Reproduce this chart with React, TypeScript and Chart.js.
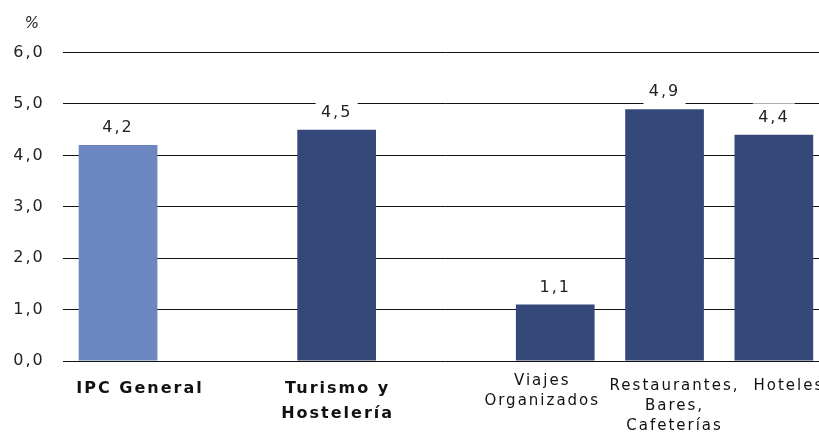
import React, { useEffect, useRef } from "react";
import { Chart, registerables } from "chart.js";

Chart.register(...registerables);

const categories: (string | string[])[] = [
  ["IPC General"],
  "",
  ["Turismo y", "Hostelería"],
  "",
  ["Viajes", "Organizados"],
  ["Restaurantes,", "Bares,", "Cafeterías"],
  ["Hoteles"],
];
const values: (number | null)[] = [4.2, null, 4.5, null, 1.1, 4.9, 4.4];
const barColors: string[] = ["#6B86C1", "#34497A", "#34497A", "#34497A", "#34497A", "#34497A", "#34497A"];
const boldIndexes: number[] = [0, 2];
const yMin = 0;
const yMax = 6;
const yStep = 1;
const unitLabel = "%";

// layout-only nudges of the category labels (pixels), as placed in the original
const labelShiftX: number[] = [22, 0, 1, 0, -13, 10, 15];
const labelShiftY: number[] = [0, 0, 0, 0, -5, 0, 0];

const FONT = "'DejaVu Sans', Verdana, sans-serif";
const SPACING = "2px";

const fmt = (v: number) => v.toFixed(1).replace(".", ",");

const setSpacing = (chart: any) => {
  try {
    (chart.ctx as any).letterSpacing = SPACING;
  } catch (e) {}
};

const labelPlugin = {
  id: "valueLabels",
  beforeUpdate(chart: any) {
    setSpacing(chart);
  },
  beforeDraw(chart: any) {
    setSpacing(chart);
    const xs = chart.scales.x;
    if (xs && xs.getLabelItems) {
      const items = xs.getLabelItems(chart.chartArea);
      items.forEach((it: any, i: number) => {
        if (it && it.options && it.options.translation && !it.__shifted) {
          it.options.translation[0] += labelShiftX[i] || 0;
          it.options.translation[1] += labelShiftY[i] || 0;
          it.__shifted = true;
        }
      });
    }
  },
  afterDatasetsDraw(chart: any) {
    const ctx = chart.ctx;
    const meta = chart.getDatasetMeta(0);
    ctx.save();
    ctx.font = `16px ${FONT}`;
    ctx.textAlign = "center";
    ctx.textBaseline = "middle";
    meta.data.forEach((el: any, i: number) => {
      const v = values[i];
      if (v === null || v === undefined) return;
      const x = el.x;
      const y = el.y - 17;
      ctx.fillStyle = "#FFFFFF";
      ctx.fillRect(x - 21, y - 14.5, 42, 29);
      ctx.fillStyle = "#222222";
      ctx.fillText(fmt(v), x, y);
    });
    ctx.restore();
  },
  afterDraw(chart: any) {
    const ctx = chart.ctx;
    ctx.save();
    ctx.font = `italic 15px ${FONT}`;
    ctx.fillStyle = "#222222";
    ctx.textAlign = "center";
    ctx.textBaseline = "middle";
    ctx.fillText(unitLabel, 33, 24.5);
    ctx.restore();
  },
};

export default function App() {
  const ref = useRef<HTMLCanvasElement | null>(null);
  useEffect(() => {
    if (!ref.current) return;
    const chart = new Chart(ref.current, {
      type: "bar",
      data: {
        labels: categories,
        datasets: [
          {
            data: values,
            backgroundColor: barColors,
            borderWidth: 0,
            categoryPercentage: 1,
            barPercentage: 0.72,
          },
        ],
      },
      options: {
        responsive: false,
        animation: false,
        layout: { padding: { top: 52.6, right: 1.5, left: 0, bottom: 0 } },
        plugins: { legend: { display: false }, tooltip: { enabled: false } },
        scales: {
          x: {
            grid: { display: false, drawTicks: false },
            border: { display: false },
            ticks: {
              autoSkip: false,
              maxRotation: 0,
              minRotation: 0,
              padding: 15,
              color: "#111111",
              font: (c: any) =>
                boldIndexes.includes(c.index)
                  ? { family: FONT, size: 16, weight: "bold", lineHeight: "25px" }
                  : { family: FONT, size: 15, weight: "normal", lineHeight: "20px" },
            },
            afterFit: (s: any) => {
              s.height = 71;
            },
          },
          y: {
            min: yMin,
            max: yMax,
            border: { display: false },
            grid: { color: "#111111", lineWidth: 1, drawTicks: false },
            ticks: {
              stepSize: yStep,
              padding: 18.7,
              color: "#222222",
              font: { family: FONT, size: 16 },
              callback: (v: any) => fmt(Number(v)),
            },
            afterFit: (s: any) => {
              s.width = 63.4;
            },
          },
        },
      },
      plugins: [labelPlugin],
    });
    return () => chart.destroy();
  }, []);
  return (
    <div style={{ position: "fixed", left: 0, top: 0, width: 819, height: 432, overflow: "hidden", background: "#fff" }}>
      <canvas ref={ref} width={830} height={432} style={{ display: "block" }} />
    </div>
  );
}
